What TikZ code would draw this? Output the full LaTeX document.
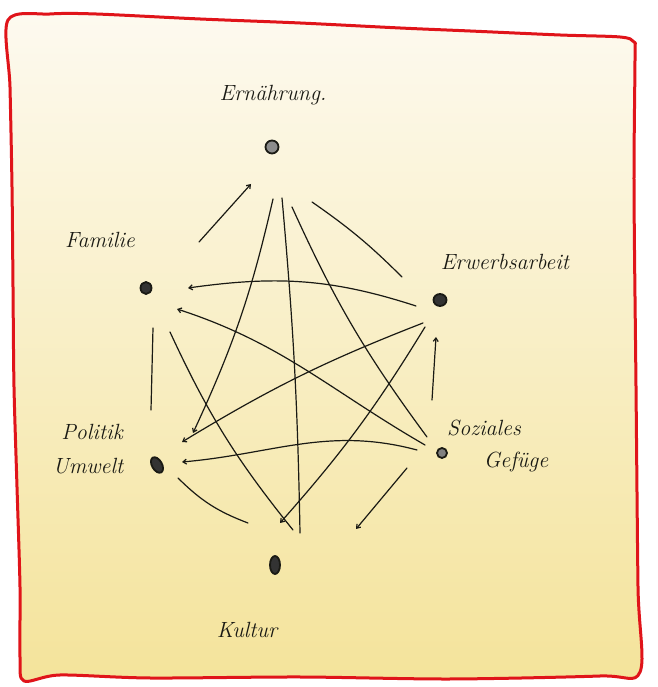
\documentclass[tikz,border=0pt]{standalone}
\usetikzlibrary{arrows.meta,calc,shapes.geometric}
\definecolor{bgtop}{HTML}{FDFAF0}
\definecolor{bgbot}{HTML}{F4E39A}
\definecolor{frame}{HTML}{E0141A}
\definecolor{ink}{HTML}{1A1A14}
\begin{document}
\begin{tikzpicture}[x=1pt,y=1pt,
  link/.style={line width=1.2pt, ink, line cap=round},
  tip/.style={-{Straight Barb[length=3.5pt,width=5pt]}},
  dot/.style={ellipse, draw=ink, line width=1.8pt, fill=black!80, minimum width=11pt, minimum height=12pt, inner sep=0pt},
  lab/.style={font=\fontsize{22}{25}\selectfont\itshape, text=ink, inner sep=1pt}]
\useasboundingbox (0,0) rectangle (657,687);
\fill[white] (0,0) rectangle (657,687);
\def\framepts{(8,667) (50,673) (96,673) (200,668) (300,664) (400,659) (470,656) (560,652) (620,650) (634,645) (635,630) (634,500) (636,300) (638,100) (640,15) (600,11) (450,8) (300,10) (150,9) (60,12) (24,6) (20,30) (20,100) (17,200) (14,300) (13,400) (12,500) (10,600)}
\shade[top color=bgtop, bottom color=bgbot] plot[smooth cycle, tension=0.5] coordinates {\framepts};
\draw[frame, line width=3pt, line join=round] plot[smooth cycle, tension=0.5] coordinates {\framepts};

% nodes
\node[dot, fill=black!45, minimum width=13pt, minimum height=13pt] (T) at (272,540) {};
\node[dot] (UL) at (146,399) {};
\node[dot, minimum width=13pt] (UR) at (440,387) {};
\node[dot, rotate=30, minimum width=10pt, minimum height=17pt] (L) at (157,222) {};
\node[dot, fill=black!50, minimum width=10pt, minimum height=10pt] (R) at (442,234) {};
\node[dot, minimum width=10pt, minimum height=18pt] (B) at (275,122) {};

% labels
\node[lab] (tT) at (273,592) {Ernährung.};
\node[lab] (tUL) at (100,447) {Familie};
\node[lab] (tUR) at (505,425) {Erwerbsarbeit};
\node[lab] (tL1) at (92,255) {Politik};
\node[lab] (tL2) at (88,221) {Umwelt};
\node[lab] (tR1) at (484,259) {Soziales};
\node[lab] (tR2) at (516,225) {Gefüge};
\node[lab] (tB) at (247,57) {Kultur};

% connectors
\draw[link,tip] ($(UL)+(53,46)$) -- ($(T)+(-21,-37)$);
\draw[link] ($(T)+(40,-55)$) to[bend left=5] ($(UR)+(-38,23)$);
\draw[link,tip] ($(T)+(1,-52)$) to[bend left=6] ($(L)+(36,32)$);
\draw[link] ($(T)+(10,-51)$) to[bend left=2] ($(B)+(25,32)$);
\draw[link] ($(T)+(20,-60)$) to[bend right=6] ($(R)+(-15,16)$);
\draw[link,tip] ($(UR)+(-24,-6)$) to[out=162,in=8] ($(UL)+(42,0)$);
\draw[link,tip] ($(R)+(-17,8)$) to[out=150,in=-18] ($(UL)+(31,-21)$);
\draw[link,tip] ($(UR)+(-17,-23)$) to[bend right=5] ($(L)+(25,23)$);
\draw[link,tip] ($(UR)+(-15,-27)$) to[bend left=5] ($(B)+(5,42)$);
\draw[link,tip] ($(R)+(-10,53)$) -- ($(UR)+(-4,-37)$);
\draw[link] ($(UL)+(7,-40)$) -- ($(L)+(-6,55)$);
\draw[link] ($(UL)+(24,-44)$) to[bend right=7] ($(B)+(18,35)$);
\draw[link,tip] ($(R)+(-25,3)$) to[out=165,in=5] ($(L)+(25,3)$);
\draw[link] ($(L)+(21,-13)$) to[bend right=12] ($(B)+(-27,42)$);
\draw[link,tip] ($(R)+(-35,-15)$) -- ($(B)+(81,36)$);
\end{tikzpicture}
\end{document}
